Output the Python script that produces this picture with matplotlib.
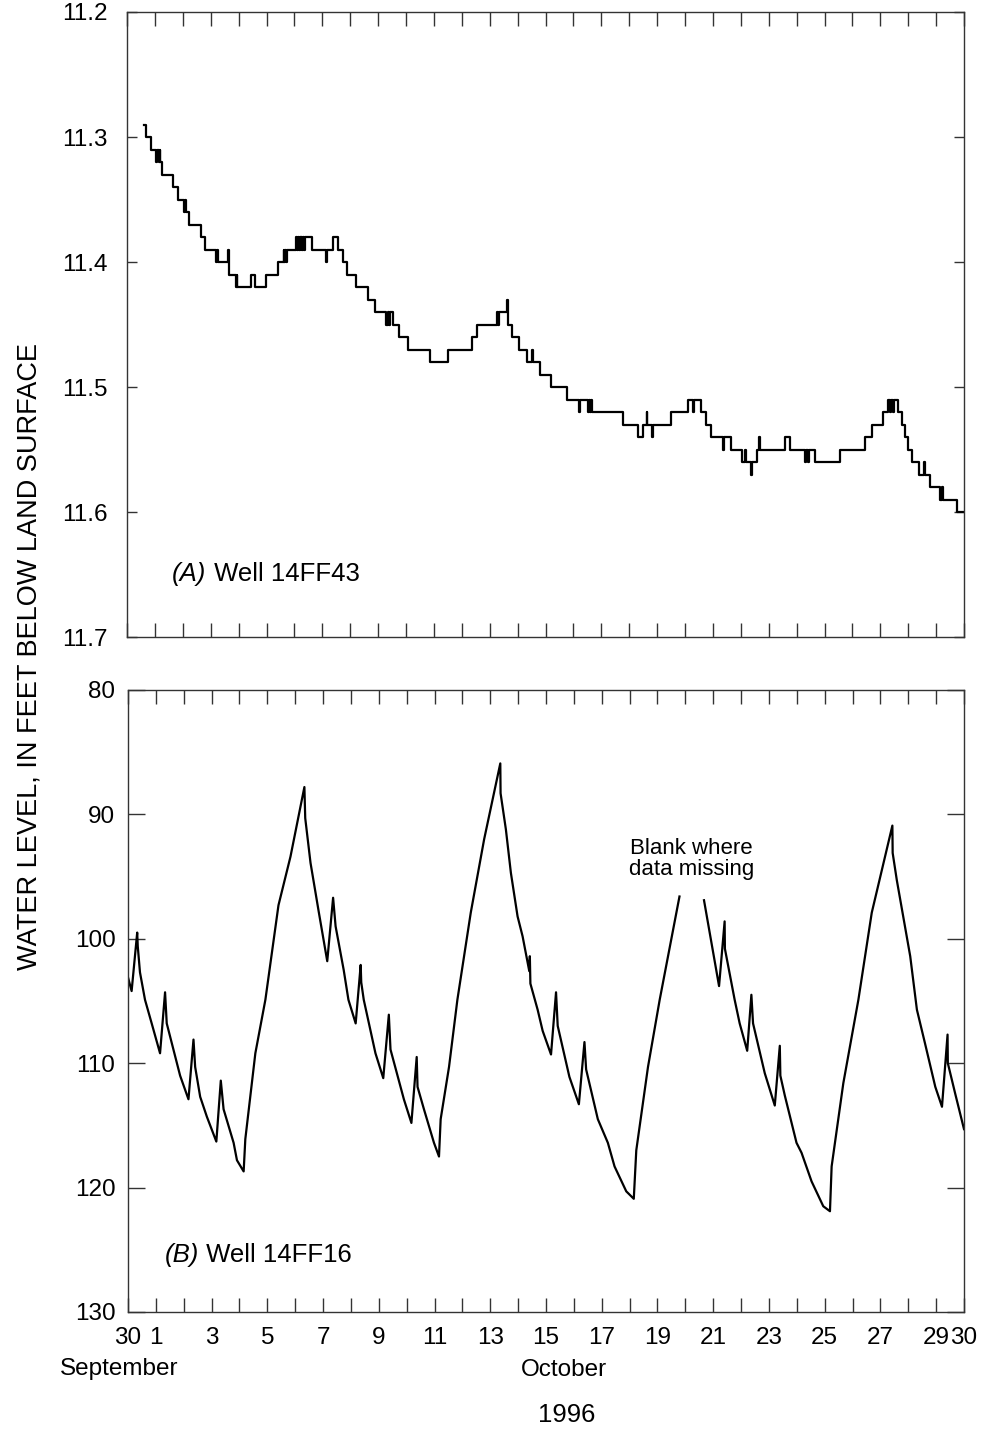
import numpy as np
import matplotlib
matplotlib.use('Agg')
import matplotlib.pyplot as plt

plt.rcParams['font.family'] = ['Liberation Sans', 'DejaVu Sans']

# ---- data: days after 30 September 1996 ----
# (A) Well 14FF43, step record (day, water level in ft)
dayA = [0.61, 0.67, 0.85, 1.05, 1.09, 1.13, 1.17, 1.20, 1.27, 1.65, 1.83, 2.05, 2.09, 2.13,
        2.21, 2.65, 2.81, 3.19, 3.22, 3.25, 3.61, 3.66, 3.90, 3.93, 3.96, 4.45, 4.57, 4.99,
        5.43, 5.61, 5.64, 5.68, 5.71, 5.75, 6.07, 6.10, 6.13, 6.16, 6.19, 6.22, 6.25, 6.28,
        6.31, 6.36, 6.39, 6.62, 7.12, 7.16, 7.39, 7.57, 7.75, 7.87, 8.20, 8.65, 8.89, 9.30,
        9.34, 9.40, 9.44, 9.52, 9.75, 10.07, 10.86, 11.51, 12.37, 12.55, 13.27, 13.31, 13.35,
        13.62, 13.65, 13.80, 14.04, 14.34, 14.52, 14.56, 14.82, 15.18, 15.78, 16.20, 16.24,
        16.52, 16.56, 16.60, 16.64, 16.68, 17.76, 18.30, 18.48, 18.63, 18.65, 18.83, 18.85,
        19.50, 20.10, 20.28, 20.34, 20.57, 20.75, 20.93, 21.35, 21.40, 21.65, 22.05, 22.15,
        22.20, 22.38, 22.41, 22.58, 22.65, 22.69, 23.57, 23.75, 24.29, 24.35, 24.41, 24.45,
        24.65, 25.55, 26.45, 26.69, 27.11, 27.29, 27.35, 27.40, 27.45, 27.50, 27.65, 27.77,
        27.89, 28.00, 28.13, 28.37, 28.55, 28.60, 28.79, 29.15, 29.20, 29.25, 29.75, 30.00]
levelA = [11.29, 11.30, 11.31, 11.32, 11.31, 11.32, 11.31, 11.32, 11.33, 11.34, 11.35, 11.36, 11.35, 11.36,
          11.37, 11.38, 11.39, 11.40, 11.39, 11.40, 11.39, 11.41, 11.42, 11.41, 11.42, 11.41, 11.42, 11.41,
          11.40, 11.39, 11.40, 11.39, 11.40, 11.39, 11.38, 11.39, 11.38, 11.39, 11.38, 11.39, 11.38, 11.39,
          11.38, 11.39, 11.38, 11.39, 11.40, 11.39, 11.38, 11.39, 11.40, 11.41, 11.42, 11.43, 11.44, 11.45,
          11.44, 11.45, 11.44, 11.45, 11.46, 11.47, 11.48, 11.47, 11.46, 11.45, 11.44, 11.45, 11.44,
          11.43, 11.45, 11.46, 11.47, 11.48, 11.47, 11.48, 11.49, 11.50, 11.51, 11.52, 11.51,
          11.52, 11.51, 11.52, 11.51, 11.52, 11.53, 11.54, 11.53, 11.52, 11.53, 11.54, 11.53,
          11.52, 11.51, 11.52, 11.51, 11.52, 11.53, 11.54, 11.55, 11.54, 11.55, 11.56, 11.55,
          11.56, 11.57, 11.56, 11.55, 11.54, 11.55, 11.54, 11.55, 11.56, 11.55, 11.56, 11.55,
          11.56, 11.55, 11.54, 11.53, 11.52, 11.51, 11.52, 11.51, 11.52, 11.51, 11.52, 11.53,
          11.54, 11.55, 11.56, 11.57, 11.56, 11.57, 11.58, 11.59, 11.58, 11.59, 11.60, 11.60]

# (B) Well 14FF16 (day, water level in ft), NaN = data missing
dayB = [0.00, 0.13, 0.33, 0.35, 0.43, 0.61, 0.85, 1.15, 1.33, 1.39, 1.87, 2.17, 2.35, 2.41,
        2.59, 2.83, 3.17, 3.33, 3.43, 3.79, 3.91, 4.15, 4.21, 4.57, 4.93, 5.40, 5.83, 6.33,
        6.36, 6.55, 6.85, 7.15, 7.36, 7.45, 7.74, 7.91, 8.17, 8.35, 8.37, 8.46, 8.88, 9.16,
        9.36, 9.42, 9.90, 10.17, 10.36, 10.39, 10.62, 10.98, 11.16, 11.22, 11.52, 11.82, 12.30,
        12.78, 13.36, 13.37, 13.56, 13.74, 13.98, 14.16, 14.40, 14.42, 14.44, 14.70, 14.88,
        15.18, 15.36, 15.42, 15.84, 16.18, 16.38, 16.44, 16.86, 17.22, 17.46, 17.88, 18.15,
        18.24, 18.66, 19.08, 19.79, 20.20, 20.67, 21.21, 21.41, 21.42, 21.77, 21.95, 22.22,
        22.37, 22.43, 22.85, 23.21, 23.39, 23.41, 23.57, 23.99, 24.17, 24.53, 24.95, 25.19,
        25.25, 25.67, 26.21, 26.69, 27.43, 27.44, 27.59, 28.07, 28.31, 28.60, 28.97, 29.21,
        29.41, 29.42, 29.69, 30.00]
levelB = [103.1, 104.2, 99.5, 100.6, 102.7, 104.9, 106.8, 109.2, 104.3, 106.8, 111.0, 112.9, 108.1, 110.3,
          112.7, 114.3, 116.3, 111.4, 113.7, 116.4, 117.8, 118.7, 116.1, 109.2, 104.9, 97.3, 93.4, 87.8,
          90.3, 93.9, 97.9, 101.8, 96.7, 99.0, 102.5, 104.9, 106.8, 102.1, 103.5, 104.9, 109.2, 111.2,
          106.1, 108.9, 112.9, 114.8, 109.5, 111.9, 113.7, 116.4, 117.5, 114.5, 110.3, 104.9, 97.9,
          92.0, 85.9, 88.3, 91.2, 94.7, 98.2, 99.8, 102.6, 101.4, 103.6, 105.7, 107.4,
          109.3, 104.3, 107.0, 111.1, 113.3, 108.3, 110.5, 114.5, 116.4, 118.3, 120.3, 120.9,
          117.0, 110.3, 104.9, 96.6, np.nan, 96.9, 103.8, 98.6, 100.8, 104.9, 106.8, 109.0,
          104.5, 106.8, 110.8, 113.4, 108.6, 111.0, 112.6, 116.4, 117.2, 119.5, 121.5, 121.9,
          118.3, 111.6, 104.9, 97.9, 90.9, 93.1, 95.3, 101.4, 105.7, 108.4, 111.9, 113.5,
          107.7, 110.0, 112.5, 115.3]

tick_days = list(range(0, 31))
tick_text = ['30', '1', '', '3', '', '5', '', '7', '', '9', '', '11', '', '13', '', '15', '',
             '17', '', '19', '', '21', '', '23', '', '25', '', '27', '', '29', '30']
yticksA = [11.2, 11.3, 11.4, 11.5, 11.6, 11.7]
yticksB = [80, 90, 100, 110, 120, 130]

W, H = 982, 1429
FS = 17.5


def box(l, t, r, b):
    return [l / W, 1 - b / H, (r - l) / W, (b - t) / H]


fig = plt.figure(figsize=(W / 100, H / 100), dpi=100)
axA = fig.add_axes(box(127, 12, 964, 637))
axB = fig.add_axes(box(128, 690, 964, 1312))

axA.plot(dayA, levelA, drawstyle='steps-post', color='k', lw=1.6)
axB.plot(dayB, levelB, color='k', lw=1.6)

for ax in (axA, axB):
    ax.set_xlim(0, 30)
    ax.set_xticks(tick_days)
    for s in ax.spines.values():
        s.set_linewidth(1.0)
        s.set_color('#333333')
    ax.tick_params(axis='x', direction='in', top=True, bottom=True, length=10, width=1.0,
                   color='#333333', labelsize=FS, pad=11)

axA.set_ylim(11.7, 11.2)
axA.set_yticks(yticksA)
axA.set_yticklabels(['%.1f' % v for v in yticksA])
axA.set_xticklabels([])
axA.tick_params(axis='y', direction='in', left=True, right=True, length=7.5, width=1.0,
                color='#333333', labelsize=FS, pad=14)

axB.set_ylim(130, 80)
axB.set_yticks(yticksB)
axB.set_xticklabels(tick_text)
axB.tick_params(axis='y', direction='in', left=True, right=True, length=12.5, width=1.0,
                color='#333333', labelsize=FS, pad=9)

# panel labels: italic letter, then plain text
tA = axA.text(0.054, 0.082, '(A)', transform=axA.transAxes, fontsize=18.5, style='italic', va='bottom')
axA.annotate(' Well 14FF43', xy=(1, 0), xycoords=tA, fontsize=18.5, va='bottom')
tB = axB.text(0.044, 0.072, '(B)', transform=axB.transAxes, fontsize=18.5, style='italic', va='bottom')
axB.annotate(' Well 14FF16', xy=(1, 0), xycoords=tB, fontsize=18.5, va='bottom')

axB.text(20.23, 93.6, 'Blank where\ndata missing', ha='center', va='center', fontsize=16, linespacing=1.0)

fig.text(118.7 / W, 1 - 1369 / H, 'September', ha='center', va='center', fontsize=FS)
fig.text(564 / W, 1 - 1370 / H, 'October', ha='center', va='center', fontsize=FS)
fig.text(567 / W, 1 - 1415 / H, '1996', ha='center', va='center', fontsize=18.5)
fig.text(30 / W, 1 - 657 / H, 'WATER LEVEL, IN FEET BELOW LAND SURFACE', rotation=90,
         ha='center', va='center', fontsize=19.5)

fig.savefig('out.png', dpi=100)
